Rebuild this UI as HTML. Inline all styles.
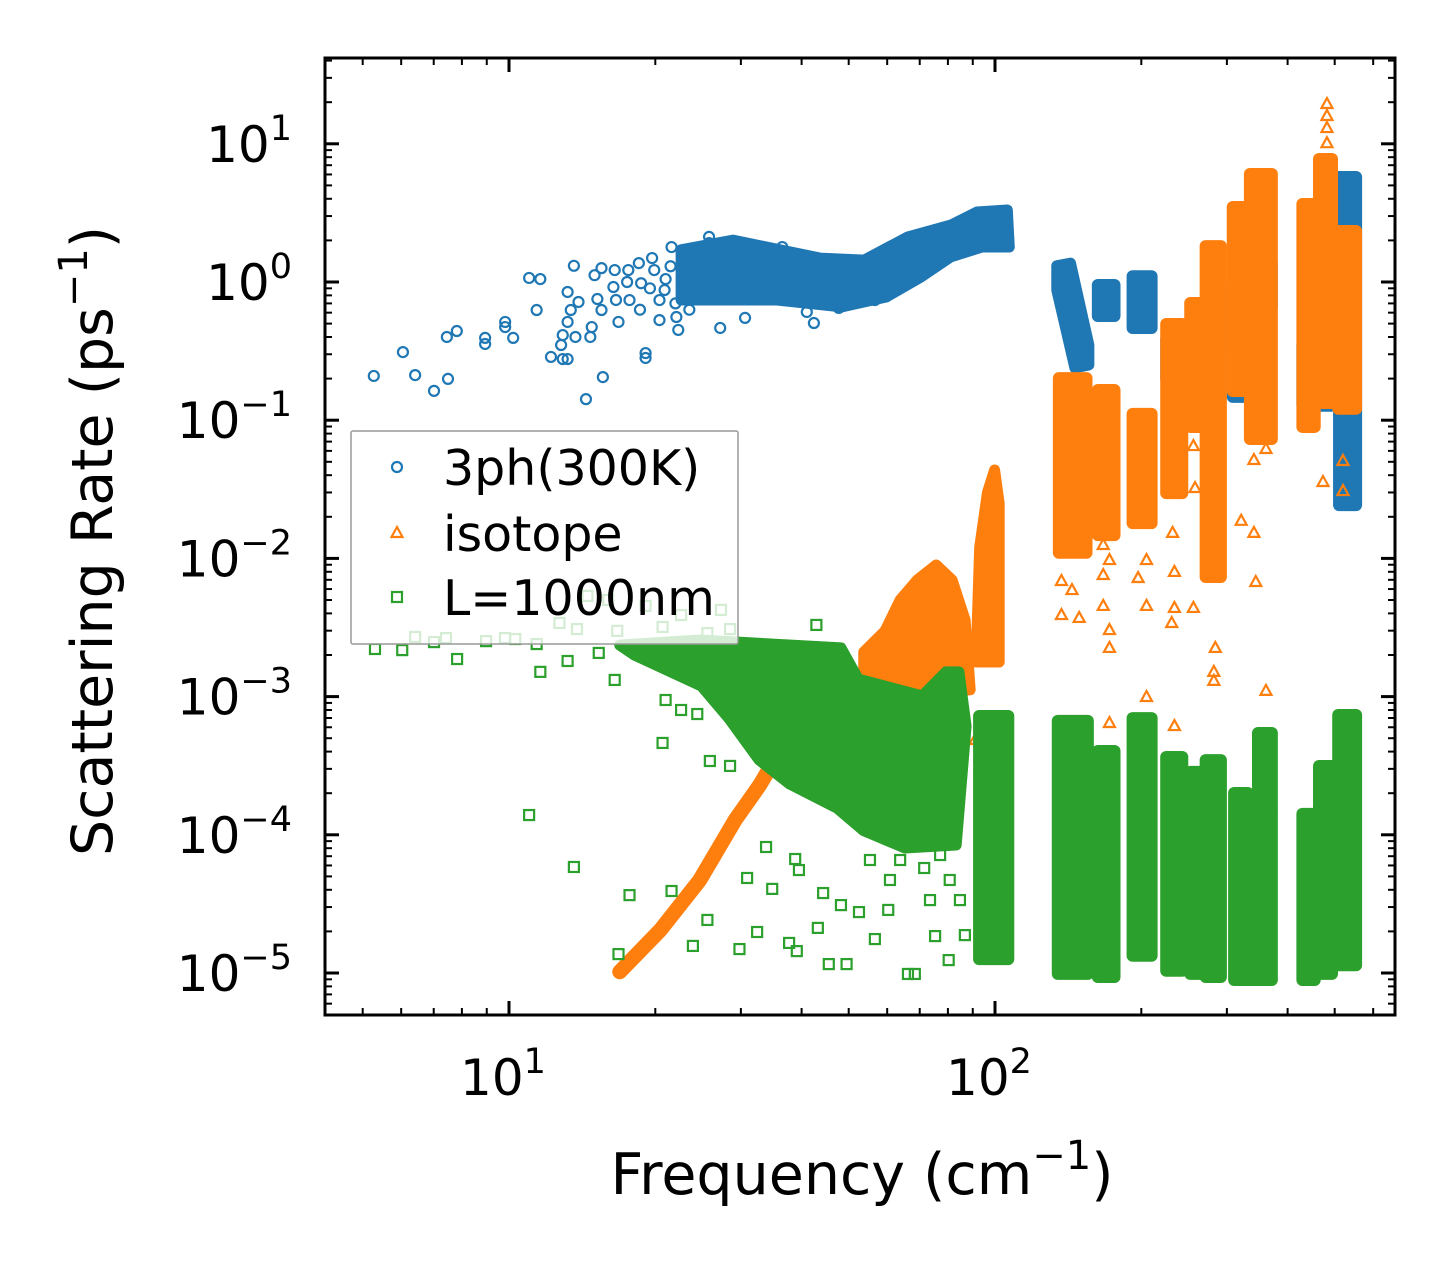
<!DOCTYPE html>
<html><head><meta charset="utf-8"><style>
html,body{margin:0;padding:0;background:#fff;}
svg{display:block;font-family:"DejaVu Sans","Liberation Sans",sans-serif;}
</style></head><body>
<svg id="chart" width="1455" height="1265" viewBox="0 0 1455 1265" xmlns="http://www.w3.org/2000/svg">
<rect width="1455" height="1265" fill="#fff"/>
<g id="plot"></g>
<g id="axes"></g>
</svg>
<script>
// ---------- data ----------
const phPoints = [[5.27,0.209],[6.05,0.311],[6.41,0.212],[7.01,0.163],[7.49,0.199],[7.45,0.40],[7.81,0.442],[8.93,0.394],[8.93,0.356],[9.82,0.514],[9.82,0.472],[10.2,0.394],[11.0,1.07],[11.6,1.05],[11.4,0.627],[12.2,0.287],[12.9,0.277],[13.2,0.277],[12.8,0.35],[12.9,0.413],[13.2,0.514],[13.4,0.627],[13.9,0.717],[13.2,0.847],[13.6,1.31],[13.7,0.40],[14.4,0.142],[14.7,0.40],[14.8,0.472],[15.0,1.12],[15.5,1.26],[15.2,0.753],[15.5,0.627],[15.6,0.205],[16.5,1.22],[16.4,0.92],[16.6,0.741],[16.8,0.514],[17.6,1.22],[17.5,1.0],[18.5,1.37],[18.7,0.98],[19.1,0.306],[19.1,0.282],[19.7,1.49],[19.9,1.22],[21.6,1.79],[22.3,0.45],[22.1,0.558],[25.8,2.12],[25.8,1.91],[27.2,0.465],[42.4,0.505],[41.0,0.607],[47.7,0.649],[36.5,1.79],[17.7,0.74],[18.6,0.63],[20.4,0.74],[20.9,0.875],[23.5,0.63],[24.7,0.81],[24.1,1.12],[20.4,0.53],[30.6,0.55],[32.8,0.875],[56.6,0.74],[19.5,0.9],[21.0,1.05],[22.0,0.7],[21.5,1.3],[23.0,0.95]];
const phRegions = [
 [[22.6,1.71],[28.9,2.01],[43.6,1.49],[53.8,1.44],[66.2,2.12],[81.1,2.58],[91.8,3.21],[106,3.32],[107,1.79],[94.0,1.79],[81.1,1.52],[70.5,1.09],[59.7,0.778],[48.4,0.66],[35.6,0.741],[22.6,0.741]],
 [[134,1.31],[143,1.37],[156,0.35],[156,0.251],[146,0.239],[134,0.875]]
];
const phBands = [[162,177,0.558,0.967],[191,211,0.457,1.12],[224,244,0.195,0.394],[273,293,0.322,0.967],[307,333,0.145,0.435],[333,373,0.649,1.37],[427,496,0.125,0.356],[508,556,0.0239,5.85]];

const isoLine = [[16.9,1.02e-5],[20.5,2.05e-5],[24.7,4.71e-5],[29.2,1.28e-4],[32.8,2.29e-4],[35.7,3.78e-4],[39.7,4.85e-4]];
const isoRegions = [
 [[53.7,0.0021],[59.4,0.00299],[63.8,0.0050],[69.2,0.00698],[75.7,0.00896],[81.6,0.00698],[86.8,0.00358],[88.9,0.00112],[53.7,0.000945]],
 [[91.4,0.00178],[93.0,0.012],[96.5,0.030],[99.8,0.0436],[102,0.025],[102,0.00178]]
];
const isoBands = [[134.7,155,0.0108,0.205],[162,177,0.0145,0.168],[191,211,0.0177,0.113],[224,244,0.0292,0.505],[251,270,0.0879,0.717],[270,293,0.00721,1.85],[307,333,0.16,3.55],[333,373,0.0719,6.15],[427,457,0.0879,3.73],[462,496,0.131,7.89],[506,556,0.119,2.38]];
const isoPoints = [[149,0.125],[137,0.00686],[137,0.00389],[149,0.00371],[144,0.0059],[167,0.0125],[172,0.00973],[167,0.00758],[167,0.00453],[172,0.00303],[172,0.00225],[169,0.152],[172,0.000644],[205,0.00453],[197,0.00721],[205,0.00973],[205,0.000993],[232,0.0153],[234,0.00798],[234,0.00438],[231,0.00341],[234,0.000612],[256,0.065],[258,0.0323],[256,0.00438],[284,0.00225],[282,0.00151],[282,0.0013],[282,0.00881],[321,0.0187],[341,0.0153],[344,0.00675],[341,0.0515],[361,0.0619],[361,0.0011],[441,0.097],[473,0.0357],[520,0.0507],[520,0.0307],[482,19.4],[482,15.9],[482,13.0],[482,10.1],[344,5.56],[344,4.33],[82.8,0.00121],[91.0,0.000485],[84.7,0.000945],[49.9,0.00132]];

const bdRegions = [
 [[16.9,0.00236],[24.7,0.00257],[48.2,0.00225],[52.3,0.00134],[70.8,0.00101],[79.3,0.00151],[84.3,0.00151],[87.2,0.000612],[83.2,8.43e-5],[65.3,8.02e-5],[53.7,1.07e-4],[47.3,1.56e-4],[37.8,2.33e-4],[32.7,3.48e-4],[28.4,6.89e-4],[24.9,0.00119],[18.1,0.002]]
];
const bdBands = [[92.3,107,1.24e-5,7.36e-4],[134,156,9.7e-6,6.78e-4],[162,177,9.2e-6,4.11e-4],[191,211,1.31e-5,7.11e-4],[224,244,1.02e-5,3.72e-4],[251,269,9.7e-6,2.9e-4],[270,293,9.2e-6,3.53e-4],[309,333,8.75e-6,2.04e-4],[333,373,8.75e-6,1.51e-4],[346,373,1.51e-4,5.55e-4],[427,457,8.75e-6,1.44e-4],[462,496,9.7e-6,3.2e-4],[506,556,1.12e-5,7.48e-4]];
const bdPoints = [[5.30,0.00221],[6.03,0.00217],[6.41,0.0027],[7.01,0.00248],[7.42,0.00265],[7.82,0.00187],[8.97,0.00252],[9.81,0.00265],[10.3,0.00261],[11.4,0.0024],[11.6,0.00151],[13.2,0.00181],[11.0,1.39e-4],[13.6,5.85e-5],[16.5,0.00132],[15.3,0.00207],[21.0,9.45e-4],[20.7,4.62e-4],[22.6,8.0e-4],[24.4,7.48e-4],[17.7,3.66e-5],[16.8,1.37e-5],[25.9,3.42e-4],[28.5,3.15e-4],[21.6,3.92e-5],[23.9,1.57e-5],[25.6,2.42e-5],[30.9,4.87e-5],[33.8,8.16e-5],[32.4,1.98e-5],[29.8,1.49e-5],[34.8,4.06e-5],[37.7,1.65e-5],[39.1,1.44e-5],[44.3,3.79e-5],[43.2,2.12e-5],[45.5,1.16e-5],[49.5,1.16e-5],[38.8,6.68e-5],[39.5,5.56e-5],[56.6,1.76e-5],[66.2,9.84e-6],[68.4,9.84e-6],[80.3,1.24e-5],[75.3,1.85e-5],[60.3,2.86e-5],[52.5,2.76e-5],[48.2,3.1e-5],[71.5,5.75e-5],[55.3,6.57e-5],[60.8,4.71e-5],[73.5,3.37e-5],[80.7,4.71e-5],[63.8,6.57e-5],[77.1,7.14e-5],[84.7,3.37e-5],[86.7,1.88e-5],[14.5,0.00535],[16.0,0.005],[19.1,0.00453],[22.6,0.00389],[27.3,0.00424],[12.7,0.00341],[13.8,0.00308],[16.7,0.00299],[20.7,0.00319],[25.6,0.00288],[28.5,0.00308],[42.9,0.0033]];

const xMajorTicks = [10,100];
const xMinorTicks = [5,6,7,8,9,20,30,40,50,60,70,80,90,200,300,400,500,600];
const yMajorExps = [-5,-4,-3,-2,-1,0,1];
const xTickLabels = ["1","2"];

// ---------- scales ----------
const L=325,R=1395,T=58,B=1015;
function X(f){return 509+486*(Math.log10(f)-1);}
function Y(v){return 282-138.2*Math.log10(v);}
const NS="http://www.w3.org/2000/svg";
const plot=document.getElementById('plot');
const axes=document.getElementById('axes');
function mk(tag,attrs,parent){const e=document.createElementNS(NS,tag);for(const k in attrs)e.setAttribute(k,attrs[k]);parent.appendChild(e);return e;}

const C1="#1f77b4",C2="#ff7f0e",C3="#2ca02c";
function drawRegions(regs,color,name){
  regs.forEach(r=>{
    const p=mk('polygon',{points:r.map(d=>X(d[0])+','+Y(d[1])).join(' '),fill:color,stroke:color,'stroke-width':11,'stroke-linejoin':'round'},plot);
    
    
  });
}
function drawBands(bands,color,name){
  bands.forEach(b=>{
    const x1=X(b[0])-5,x2=X(b[1])+5,y1=Y(b[3])-5,y2=Y(b[2])+5;
    const r=mk('rect',{x:x1,y:y1,width:x2-x1,height:y2-y1,rx:6,fill:color},plot);
    
    
  });
}
function marker(kind,cx,cy,color,parent){
  let e;
  if(kind==='o') e=mk('circle',{cx:cx,cy:cy,r:5,fill:'none',stroke:color,'stroke-width':2.2},parent);
  else if(kind==='^') e=mk('polygon',{points:`${cx},${cy-6} ${cx+5.5},${cy+4} ${cx-5.5},${cy+4}`,fill:'none',stroke:color,'stroke-width':2.2},parent);
  else e=mk('rect',{x:cx-5,y:cy-5,width:10,height:10,fill:'none',stroke:color,'stroke-width':2.2},parent);
  return e;
}
function drawPoints(pts,kind,color,name){
  pts.forEach(d=>{
    const e=marker(kind,X(d[0]),Y(d[1]),color,plot);
    
    
  });
}
// 3ph
drawRegions(phRegions,C1,'ph-dense-region');
drawBands(phBands,C1,'ph-band');
drawPoints(phPoints,'o',C1,'ph-point');
// isotope
const il=mk('polyline',{points:isoLine.map(d=>X(d[0])+','+Y(d[1])).join(' '),fill:'none',stroke:C2,'stroke-width':15,'stroke-linejoin':'round','stroke-linecap':'round'},plot);


drawRegions(isoRegions,C2,'isotope-dense-region');
drawBands(isoBands,C2,'isotope-band');
drawPoints(isoPoints,'^',C2,'isotope-point');
// boundary
drawRegions(bdRegions,C3,'boundary-dense-region');
drawBands(bdBands,C3,'boundary-band');
drawPoints(bdPoints,'s',C3,'boundary-point');

// ---------- legend ----------
const lg=mk('g',{},axes);


mk('rect',{x:351,y:431,width:387,height:213,fill:'#fff','fill-opacity':0.8,stroke:'#999','stroke-width':1.5,rx:2},lg);
const legendEntries=[["3ph(300K)",'o',C1,472],["isotope",'^',C2,538],["L=1000nm",'s',C3,602]];
legendEntries.forEach(le=>{
  const g=mk('g',{},lg);
  
  
  marker(le[1],397,le[3]-5,le[2],g);
  const t=mk('text',{x:443,y:le[3]+13,'font-size':49,fill:'#000'},g);
  t.textContent=le[0];
});

// ---------- axes ----------
const frame=mk('rect',{x:L,y:T,width:R-L,height:B-T,fill:'none',stroke:'#000','stroke-width':3},axes);


function tick(x1,y1,x2,y2,w){mk('line',{x1:x1,y1:y1,x2:x2,y2:y2,stroke:'#000','stroke-width':w},axes);}
xMajorTicks.forEach(f=>{const x=X(f);tick(x,B,x,B-14,3);tick(x,T,x,T+14,3);});
xMinorTicks.forEach(f=>{const x=X(f);tick(x,B,x,B-7,2);tick(x,T,x,T+7,2);});
for(let e=-6;e<=1;e++){for(let m=2;m<=9;m++){const y=Y(m*Math.pow(10,e));if(y>T+1&&y<B-1){tick(L,y,L+7,y,2);tick(R,y,R-7,y,2);}}}
yMajorExps.forEach(e=>{const y=Y(Math.pow(10,e));tick(L,y,L+14,y,3);tick(R,y,R-14,y,3);});
// x tick labels
xMajorTicks.forEach((f,i)=>{
  const t=mk('text',{x:X(f)-6,y:1095,'font-size':50,'text-anchor':'middle',fill:'#000'},axes);
  
  
  t.textContent='10';
  const s=mk('tspan',{dy:-22,'font-size':35},t);s.textContent=xTickLabels[i];
});
// y tick labels
yMajorExps.forEach(e=>{
  const t=mk('text',{x:292,y:Y(Math.pow(10,e))+18,'font-size':50,'text-anchor':'end',fill:'#000'},axes);
  
  
  t.textContent='10';
  const s=mk('tspan',{dy:-22,'font-size':35},t);s.textContent=(e<0?'\u2212':'')+Math.abs(e);
});
// axis titles
const xt=mk('text',{x:862,y:1194,'font-size':57,'text-anchor':'middle',fill:'#000'},axes);


xt.textContent='Frequency (cm';
const xs=mk('tspan',{dy:-25,'font-size':40},xt);xs.textContent='\u22121';
const xc=mk('tspan',{dy:25},xt);xc.textContent=')';
const yt=mk('text',{x:0,y:0,'font-size':57,'text-anchor':'middle',fill:'#000',transform:'translate(112,541) rotate(-90)'},axes);


yt.textContent='Scattering Rate (ps';
const ys=mk('tspan',{dy:-25,'font-size':40},yt);ys.textContent='\u22121';
const yc=mk('tspan',{dy:25},yt);yc.textContent=')';
</script>
</body></html>
